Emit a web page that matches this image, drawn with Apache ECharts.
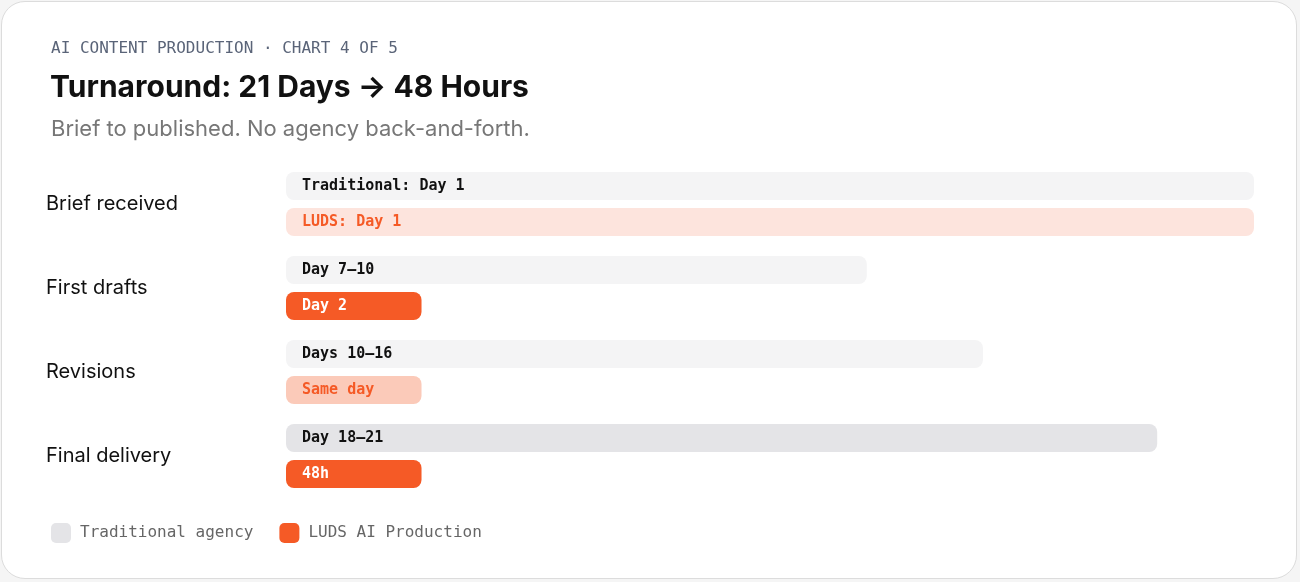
<!DOCTYPE html>
<html><head><meta charset="utf-8">
<script src="https://cdn.jsdelivr.net/npm/echarts@6/dist/echarts.min.js"></script>
<style>
html,body{margin:0;padding:0;background:#f5f5f5;}
#card{position:absolute;left:1px;top:1px;width:1296px;height:578px;background:#fff;border:1px solid #dcdcdc;border-radius:24px;box-sizing:border-box;overflow:hidden;}
#c{position:absolute;left:-2px;top:-2px;width:1300px;height:582px;}
</style></head><body>
<div id="card"><div id="c"></div></div>
<script>
const stages = ['Brief received','First drafts','Revisions','Final delivery'];
const traditionalValues = [100, 60, 72, 90];
const traditionalLabels = ['Traditional: Day 1','Day 7–10','Days 10–16','Day 18–21'];
const ludsValues = [100, 14, 14, 14];
const ludsLabels = ['LUDS: Day 1','Day 2','Same day','48h'];
const tradColors = ['#f4f4f5','#f4f4f5','#f4f4f5','#e4e4e7'];
const ludsColors = ['#fde4dd','#f55a26','#fbcab9','#f55a26'];
const ludsText = ['#f55a26','#ffffff','#f55a26','#ffffff'];

const chart = echarts.init(document.getElementById('c'));
const mono = "'DejaVu Sans Mono', monospace";
chart.setOption({
  animation:false,
  title:[
    {text:'AI CONTENT PRODUCTION · CHART 4 OF 5',left:46,top:36,textStyle:{fontFamily:mono,fontSize:16,fontWeight:'normal',color:'#5a6478',letterSpacing:3}},
    {text:'Turnaround: 21 Days → 48 Hours',left:45,top:68,textStyle:{fontFamily:'Inter',fontSize:30,fontWeight:'bold',color:'#111',letterSpacing:-0.5}},
    {text:'Brief to published. No agency back-and-forth.',left:46,top:113,textStyle:{fontFamily:'Inter',fontSize:22,fontWeight:'normal',color:'#777'}}
  ],
  legend:{left:46,top:518,itemWidth:20,itemHeight:20,itemGap:26,icon:'roundRect',
    textStyle:{fontFamily:mono,fontSize:16,color:'#666',padding:[0,0,0,4]},
    data:[{name:'Traditional agency',itemStyle:{color:'#e4e4e7'}},{name:'LUDS AI Production',itemStyle:{color:'#f55a26'}}]},
  grid:{left:286,right:46,top:162,height:336},
  xAxis:{type:'value',min:0,max:100,show:false},
  yAxis:{type:'category',data:stages,inverse:true,axisLine:{show:false},axisTick:{show:false},
    axisLabel:{align:'left',margin:240,fontFamily:'Inter',fontSize:20,color:'#111'}},
  series:[
    {name:'Traditional agency',type:'bar',barWidth:28,barGap:'28.6%',color:'#e4e4e7',
     data:traditionalValues.map((v,i)=>({value:v,itemStyle:{color:tradColors[i],borderRadius:8},
       label:{show:true,position:'insideLeft',distance:16,formatter:traditionalLabels[i],fontFamily:mono,fontWeight:'bold',fontSize:15,color:'#111'}}))},
    {name:'LUDS AI Production',type:'bar',barWidth:28,barGap:'28.6%',color:'#f55a26',
     data:ludsValues.map((v,i)=>({value:v,itemStyle:{color:ludsColors[i],borderRadius:8},
       label:{show:true,position:'insideLeft',distance:16,formatter:ludsLabels[i],fontFamily:mono,fontWeight:'bold',fontSize:15,color:ludsText[i]}}))}
  ]
});
</script></body></html>
